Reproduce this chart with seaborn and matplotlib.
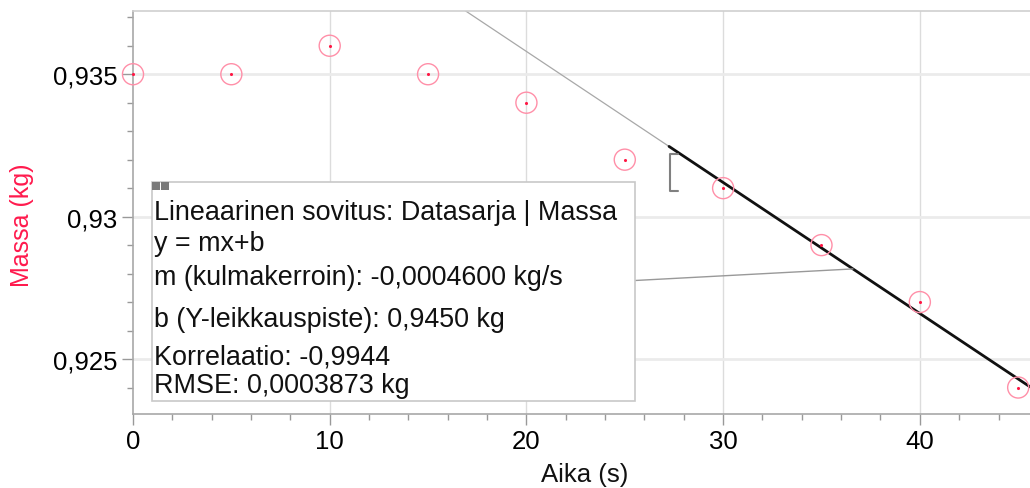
import numpy as np
import pandas as pd
import matplotlib
matplotlib.use("Agg")
import matplotlib.pyplot as plt
import seaborn as sns
from matplotlib.ticker import MultipleLocator, FuncFormatter
from matplotlib.patches import Rectangle

# ---- data ----
aika = [0, 5, 10, 15, 20, 25, 30, 35, 40, 45]
massa = [0.935, 0.935, 0.936, 0.935, 0.934, 0.932, 0.931, 0.929, 0.927, 0.924]
slope = -0.00046
intercept = 0.9450
fit_start = 27.25
box_lines = [
    "Lineaarinen sovitus: Datasarja | Massa",
    "y = mx+b",
    "m (kulmakerroin): -0,0004600 kg/s",
    "b (Y-leikkauspiste): 0,9450 kg",
    "Korrelaatio: -0,9944",
    "RMSE: 0,0003873 kg",
]
x_label = "Aika (s)"
y_label = "Massa (kg)"

sns.set_theme(style="white")
plt.rcParams["font.family"] = ["Liberation Sans", "DejaVu Sans"]

W, H = 1030, 489
fig = plt.figure(figsize=(W / 100, H / 100), dpi=100)
ax = fig.add_axes([133 / W, 1 - 415 / H, (W - 133) / W, (415 - 12) / H])

df = pd.DataFrame({"Aika": aika, "Massa": massa})
xmin, xmax = 0, 45.6
ymin, ymax = 0.92307, 0.93722
ax.set_xlim(xmin, xmax)
ax.set_ylim(ymin, ymax)

# grid
for gx in [10, 20, 30, 40]:
    ax.axvline(gx, color="#dcdcdc", lw=1.0, zorder=0)
for gy in [0.925, 0.93, 0.935]:
    ax.axhline(gy, color="#ebebeb", lw=2.0, zorder=0)

# fit line: thin gray full, bold black for fit range
xx = np.array([xmin, xmax])
sns.lineplot(x=xx, y=slope * xx + intercept, ax=ax, color="#a8a8a8", lw=0.9, zorder=2)
xf = np.array([fit_start, xmax])
sns.lineplot(x=xf, y=slope * xf + intercept, ax=ax, color="#111111", lw=2.0, zorder=3)

# selection bracket
bx = fit_start + 0.05
ax.plot([bx + 0.42, bx, bx, bx + 0.42],
        [0.93219, 0.93219, 0.93089, 0.93089],
        color="#808080", lw=1.5, zorder=3)

# data points
sns.scatterplot(data=df, x="Aika", y="Massa", ax=ax, s=230, marker="o",
                facecolor="none", edgecolor="#ff8fa8", linewidth=1.0, zorder=4, clip_on=False)
sns.scatterplot(data=df, x="Aika", y="Massa", ax=ax, s=5, marker="o",
                color="#ff1744", linewidth=0, zorder=5, clip_on=False)

# axes styling
ax.spines["right"].set_visible(False)
ax.spines["top"].set_color("#cfcfcf")
ax.spines["left"].set_color("#a8a8a8")
ax.spines["bottom"].set_color("#a8a8a8")
for s in ["left", "bottom", "top"]:
    ax.spines[s].set_linewidth(1.2)

ax.xaxis.set_major_locator(MultipleLocator(10))
ax.xaxis.set_minor_locator(MultipleLocator(2))
ax.yaxis.set_major_locator(MultipleLocator(0.005))
ax.yaxis.set_minor_locator(MultipleLocator(0.001))
ax.xaxis.set_major_formatter(FuncFormatter(lambda v, p: f"{v:g}"))
ax.yaxis.set_major_formatter(FuncFormatter(lambda v, p: f"{round(v, 3):g}".replace(".", ",")))
ax.tick_params(axis="both", which="major", direction="out", length=8, width=1.0,
               color="#999999", labelsize=18.5, labelcolor="black", pad=3,
               bottom=True, left=True)
ax.tick_params(axis="both", which="minor", direction="out", length=4.5, width=1.0,
               color="#999999", bottom=True, left=True)

ax.set_xlabel(x_label, fontsize=18.5, color="#111111")
ax.set_ylabel(y_label, fontsize=18, color="#ff1a4d")
ax.xaxis.set_label_coords((585 - 133) / (W - 133), (415 - 475) / (415 - 12))
ax.yaxis.set_label_coords((22 - 133) / (W - 133), (415 - 225) / (415 - 12))
ax.xaxis.label.set_va("center")
ax.yaxis.label.set_va("center")

# info box in pixel coords -> figure fraction
def fx(px):
    return px / W

def fy(py):
    return 1 - py / H

box = Rectangle((fx(152), fy(402)), fx(635) - fx(152), fy(183) - fy(402),
                transform=fig.transFigure, facecolor="white", edgecolor="#c8c8c8",
                lw=1.2, zorder=10)
fig.patches.append(box)
# small icons top-left
for ix in [152, 161]:
    fig.patches.append(Rectangle((fx(ix), fy(191)), fx(8), 8 / H, transform=fig.transFigure,
                                 facecolor="#7a7a7a", edgecolor="none", zorder=11))

line_base = [220, 251, 285, 327, 365, 393]
for txt, py in zip(box_lines, line_base):
    fig.text(fx(154), fy(py), txt, fontsize=19.4, color="#111111",
             va="baseline", ha="left", zorder=12)

# connector from box to fit line
xc = 36.6
yc = slope * xc + intercept
pc = ax.transData.transform((xc, yc))
fig.add_artist(plt.Line2D([fx(635), pc[0] / W], [fy(281.5), pc[1] / H],
                          transform=fig.transFigure, color="#999999", lw=1.0, zorder=9))

fig.savefig("out.png", dpi=100)
